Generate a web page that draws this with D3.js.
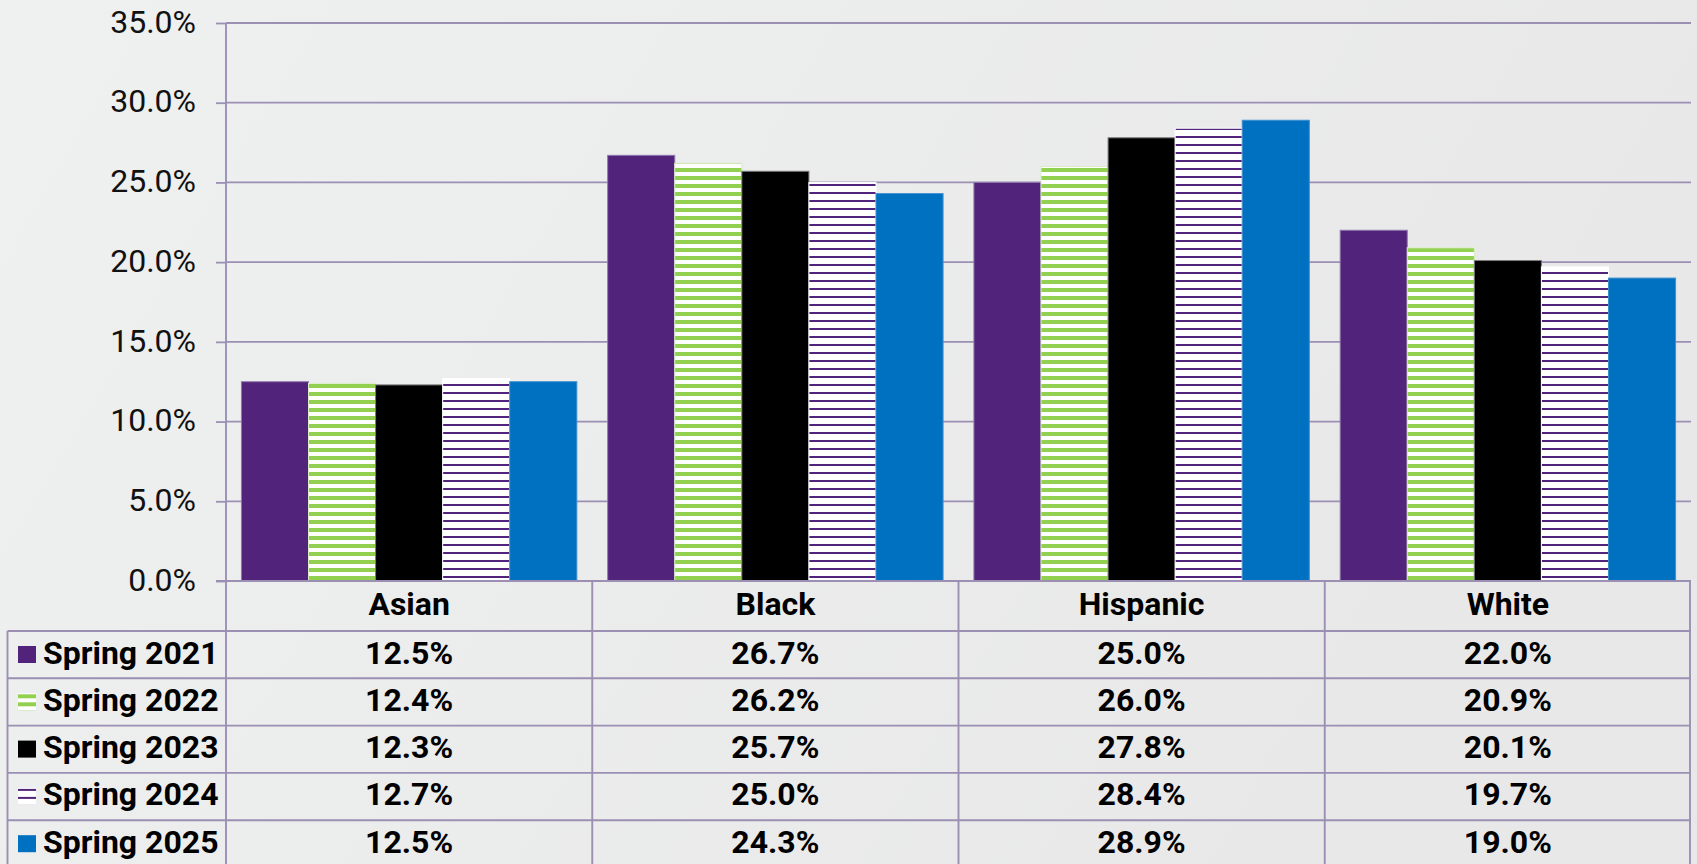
<!DOCTYPE html>
<html><head><meta charset="utf-8">
<script src="https://cdn.jsdelivr.net/npm/d3@7"></script>
<style>
html,body{margin:0;padding:0;overflow:hidden;}
body{width:1697px;height:864px;}
svg{display:block;font-family:Roboto, "Noto Sans", sans-serif;}
</style></head>
<body><svg id="c" width="1697" height="864"></svg>
<script>
const categories = ["Asian", "Black", "Hispanic", "White"];
const seriesNames = ["Spring 2021", "Spring 2022", "Spring 2023", "Spring 2024", "Spring 2025"];
const spring2021 = [12.5, 26.7, 25.0, 22.0];
const spring2022 = [12.4, 26.2, 26.0, 20.9];
const spring2023 = [12.3, 25.7, 27.8, 20.1];
const spring2024 = [12.7, 25.0, 28.4, 19.7];
const spring2025 = [12.5, 24.3, 28.9, 19.0];
const yTicks = [0, 5, 10, 15, 20, 25, 30, 35];

(function () {
const seriesValues = [spring2021, spring2022, spring2023, spring2024, spring2025];
const fills = ["#51237a", "url(#pGreen)", "#000000", "url(#pPurple)", "#0070c0"];
const strokes = ["#8f78ae", "#d9ecc6", "#7a7a7a", "#ffffff", "#3f8fd0"];
const gridColor = "#9b90b4";

const W = 1697, H = 864;
const mLeft = 226, mRight = 1691, mTop = 23, mBottom = 581;
const tableLeft = 7.5, rowH = 47.3, headerBottom = 631;

const svg = d3.select("#c");
const defs = svg.append("defs");
const bg = defs.append("linearGradient").attr("id", "bg").attr("x1", "0").attr("y1", "0").attr("x2", "1").attr("y2", "0.3");
bg.append("stop").attr("offset", "0").attr("stop-color", "#eff0f0");
bg.append("stop").attr("offset", "1").attr("stop-color", "#e8e8e8");

const pg = defs.append("pattern").attr("id", "pGreen").attr("patternUnits", "userSpaceOnUse")
  .attr("width", 8).attr("height", 8);
pg.append("rect").attr("width", 8).attr("height", 8).attr("fill", "#ffffff");
pg.append("rect").attr("y", 0).attr("width", 8).attr("height", 4).attr("fill", "#92d050");

const pp = defs.append("pattern").attr("id", "pPurple").attr("patternUnits", "userSpaceOnUse")
  .attr("width", 8).attr("height", 8);
pp.append("rect").attr("width", 8).attr("height", 8).attr("fill", "#ffffff");
pp.append("rect").attr("y", 0).attr("width", 8).attr("height", 2).attr("fill", "#51237a");

svg.append("rect").attr("width", W).attr("height", H).attr("fill", "url(#bg)");

const y = d3.scaleLinear().domain([0, 35]).range([mBottom, mTop]);
const x0 = d3.scaleBand().domain(categories).range([mLeft, mRight]).padding(0);
const x1 = d3.scaleBand().domain(seriesNames).range([0, x0.bandwidth()]).paddingInner(0).paddingOuter(0.23);

// gridlines
svg.append("g").selectAll("line").data(yTicks.filter(t => t > 0)).join("line")
  .attr("x1", mLeft).attr("x2", mRight)
  .attr("y1", d => y(d)).attr("y2", d => y(d))
  .attr("stroke", gridColor).attr("stroke-width", 1.8);

// y axis
const yAxis = d3.axisLeft(y).tickValues(yTicks).tickSize(10).tickPadding(20)
  .tickFormat(d => d3.format(".1f")(d) + "%");
const ga = svg.append("g").attr("transform", `translate(${mLeft},0)`).call(yAxis);
ga.select(".domain").remove();
ga.selectAll(".tick line").attr("stroke", gridColor).attr("stroke-width", 1.8);
ga.selectAll(".tick text").attr("font-size", 32).attr("fill", "#111").attr("dy", "0.29em")
  .attr("font-family", "Roboto, sans-serif");

// bars
const groups = svg.append("g").selectAll("g").data(categories).join("g")
  .attr("transform", d => `translate(${x0(d)},0)`);
groups.selectAll("rect").data((c, ci) => seriesNames.map((s, si) => ({s, si, v: seriesValues[si][ci]})))
  .join("rect")
  .attr("x", d => x1(d.s)).attr("width", x1.bandwidth())
  .attr("y", d => y(d.v)).attr("height", d => mBottom - y(d.v))
  .attr("fill", d => fills[d.si])
  .attr("stroke", d => strokes[d.si]).attr("stroke-width", 1);

// table lines
const tg = svg.append("g").attr("stroke", gridColor).attr("stroke-width", 1.9).attr("fill", "none");
tg.append("line").attr("x1", mLeft - 10).attr("x2", mRight).attr("y1", mBottom).attr("y2", mBottom);
const rowTops = seriesNames.map((s, i) => headerBottom + i * rowH);
tg.selectAll("line.row").data(rowTops.concat([headerBottom + seriesNames.length * rowH])).join("line")
  .attr("class", "row")
  .attr("x1", tableLeft).attr("x2", mRight).attr("y1", d => d).attr("y2", d => d);
tg.append("line").attr("x1", mLeft).attr("x2", mLeft).attr("y1", mTop).attr("y2", H + 5);
tg.append("line").attr("x1", tableLeft).attr("x2", tableLeft).attr("y1", headerBottom).attr("y2", H + 5);
tg.selectAll("line.col").data(categories.slice(1)).join("line").attr("class", "col")
  .attr("x1", d => x0(d)).attr("x2", d => x0(d)).attr("y1", mBottom).attr("y2", H + 5);
tg.append("line").attr("x1", mRight - 1).attr("x2", mRight - 1).attr("y1", mBottom).attr("y2", H + 5);

// header labels
svg.append("g").selectAll("text").data(categories).join("text")
  .attr("x", d => x0(d) + x0.bandwidth() / 2).attr("y", mBottom + 33.5)
  .attr("text-anchor", "middle").attr("font-size", 32).attr("font-weight", "bold").attr("fill", "#000")
  .text(d => d);

// rows
const rows = svg.append("g").selectAll("g").data(seriesNames).join("g")
  .attr("transform", (d, i) => `translate(0,${rowTops[i]})`);
rows.append("rect").attr("x", 18).attr("y", 15).attr("width", 18).attr("height", 17)
  .attr("fill", (d, i) => fills[i]);
rows.append("text").attr("x", 43).attr("y", 32.5).attr("font-size", 32).attr("font-weight", "bold")
  .attr("fill", "#000").text(d => d);
rows.selectAll("text.v").data((s, si) => categories.map((c, ci) => ({c, v: seriesValues[si][ci]})))
  .join("text").attr("class", "v")
  .attr("x", d => x0(d.c) + x0.bandwidth() / 2).attr("y", 32.5)
  .attr("text-anchor", "middle").attr("font-size", 32).attr("font-weight", "bold").attr("fill", "#000")
  .text(d => d3.format(".1f")(d.v) + "%");
})();
</script></body></html>
